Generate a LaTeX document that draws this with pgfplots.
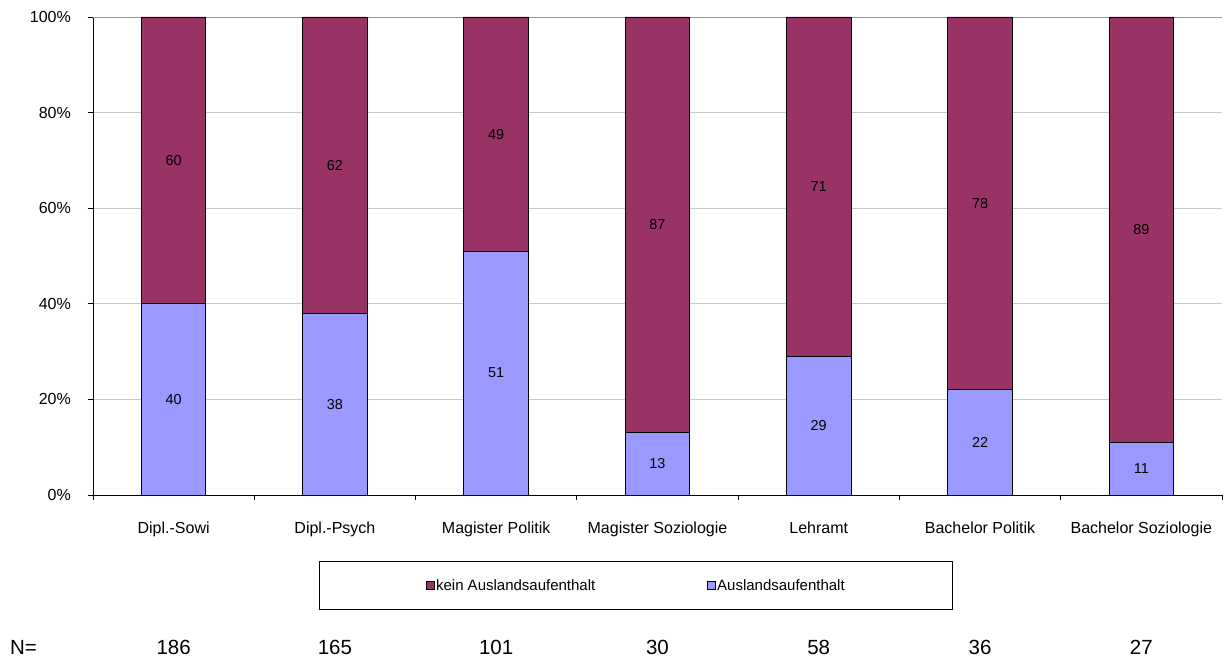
\documentclass[border=0pt]{standalone}
\usepackage{fontspec}
\setmainfont{Liberation Sans}
\usepackage{pgfplots}
\usepackage{pgfplotstable}
\pgfplotsset{compat=1.18}

\definecolor{ausland}{HTML}{9999FF}
\definecolor{keinausland}{HTML}{993366}
\definecolor{gridgray}{HTML}{C8C8C8}
\definecolor{framegray}{HTML}{999999}

% Anteile in Prozent je Studiengang, n = Fallzahl
\pgfplotstableread{
x ja nein n
0 40 60 186
1 38 62 165
2 51 49 101
3 13 87 30
4 29 71 58
5 22 78 36
6 11 89 27
}\aufenthalt

\newcommand{\fs}[1]{\fontsize{#1bp}{1.2\dimexpr#1bp\relax}\selectfont}
\tikzset{nlabel/.style={anchor=base, inner sep=0pt, font=\fs{20.5}}}

\begin{document}
\begin{tikzpicture}
\pgfplotsset{
  base/.style={
    scale only axis, width=1129bp, height=478bp,
    xmin=-0.5, xmax=6.5, ymin=0, ymax=100,
    enlargelimits=false,
    at={(93bp,163bp)}, anchor=south west,
    /pgf/number format/assume math mode=true,
  },
}
\begin{axis}[base,
  ybar stacked, bar width=0.4,
  axis lines*=left,
  axis line style={black, line width=0.8bp, -},
  ymajorgrids, grid style={gridgray, line width=0.8bp},
  tick align=outside, major tick length=5bp,
  tick style={black, line width=0.8bp},
  ytick={0,20,...,100},
  yticklabel={\pgfmathprintnumber{\tick}\%},
  yticklabel style={font=\fs{16}, anchor=east, inner sep=0pt, xshift=-17bp},
  xtick={-0.5,0.5,...,6.5}, xticklabels={},
  extra x ticks={0,1,...,6},
  extra x tick labels={Dipl.-Sowi, Dipl.-Psych, Magister Politik, Magister Soziologie, Lehramt, Bachelor Politik, Bachelor Soziologie},
  extra x tick style={major tick length=0pt,
    xticklabel style={font=\fs{16}, anchor=base, inner sep=0pt, yshift=-38bp}},
  reverse legend,
  legend columns=2,
  legend style={at={(0.481,-0.1893)}, anchor=center,
    draw=black, line width=0.8bp, font=\fs{15},
    inner xsep=106bp, inner ysep=16bp,
    nodes={inner sep=1.5bp},
    /tikz/every even column/.append style={column sep=110bp}},
  legend image code/.code={\draw[#1, draw=black, line width=0.8bp] (0bp,-4bp) rectangle (8bp,4bp);},
]
\addplot[fill=ausland, draw=black, line width=0.9bp] table[x=x, y=ja] {\aufenthalt};
\addplot[fill=keinausland, draw=black, line width=0.9bp] table[x=x, y=nein] {\aufenthalt};
\legend{Auslandsaufenthalt, kein Auslandsaufenthalt}
\draw[framegray, line width=0.8bp] (rel axis cs:0,1) -- (rel axis cs:1,1) -- (rel axis cs:1,0);
\end{axis}

% Beschriftung der Segmente und Fallzahlen
\begin{axis}[base, hide axis, clip=false,
  every node near coord/.append style={anchor=center, font=\fs{14.4}, text=black},
]
\addplot[draw=none, mark=none, nodes near coords, point meta=explicit]
  table[x=x, y expr=\thisrow{ja}/2, meta=ja] {\aufenthalt};
\addplot[draw=none, mark=none, nodes near coords, point meta=explicit]
  table[x=x, y expr=\thisrow{ja}+\thisrow{nein}/2, meta=nein] {\aufenthalt};
\node[anchor=base west, inner sep=0pt, font=\fs{20.5}] at (rel axis cs:0,0) [xshift=-83bp, yshift=-159bp] {N=};
\node[nlabel] at (axis cs:0,0) [yshift=-159bp] {186};
\node[nlabel] at (axis cs:1,0) [yshift=-159bp] {165};
\node[nlabel] at (axis cs:2,0) [yshift=-159bp] {101};
\node[nlabel] at (axis cs:3,0) [yshift=-159bp] {30};
\node[nlabel] at (axis cs:4,0) [yshift=-159bp] {58};
\node[nlabel] at (axis cs:5,0) [yshift=-159bp] {36};
\node[nlabel] at (axis cs:6,0) [yshift=-159bp] {27};
\end{axis}
\pgfresetboundingbox
\useasboundingbox (0,0) rectangle (1232bp,658bp);
\end{tikzpicture}
\end{document}
